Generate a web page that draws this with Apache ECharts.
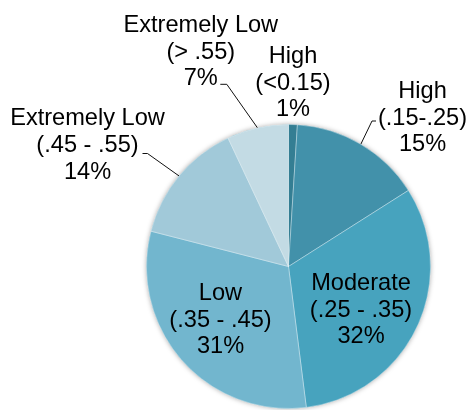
<!DOCTYPE html>
<html>
<head>
<meta charset="utf-8">
<script src="https://cdn.jsdelivr.net/npm/echarts@6/dist/echarts.min.js"></script>
<style>
  html, body { margin: 0; padding: 0; background: #fff; }
  #chart { width: 469px; height: 410px; }
</style>
</head>
<body>
<div id="chart"></div>
<script>
// Risk level categories, their value ranges and share of the total (%)
const levels = ['High', 'High', 'Moderate', 'Low', 'Extremely Low', 'Extremely Low'];
const ranges = ['(<0.15)', '(.15-.25)', '(.25 - .35)', '(.35 - .45)', '(.45 - .55)', '(> .55)'];
const shares = [1, 15, 32, 31, 14, 7];

const sliceColors = ['#347e93', '#4291aa', '#47a3be', '#72b6ce', '#a1c9d9', '#c3dbe4'];

// Label block centres and leader-line attachment (offsets from the label centre)
const labelPos = [
  [293, 83], [422.5, 118], [361, 310], [220.5, 320], [87.5, 145.5], [200.8, 52]
];
const leaderEnds = [
  null, [[-50.5, 3], [-46.5, 3]], null, null,
  [[60, 8], [55, 8]], [[26, 32.3], [19.5, 32.3]]
];

const PIE_CENTER = [288.5, 266.5];
const PIE_RADIUS = 142;

const chart = echarts.init(document.getElementById('chart'), null, { renderer: 'canvas' });

const pieData = shares.map((v, i) => ({
  value: v,
  name: levels[i] + ' ' + ranges[i],
  itemStyle: { color: sliceColors[i] },
  labelLine: { show: leaderEnds[i] !== null }
}));

chart.setOption({
  animation: false,
  backgroundColor: '#ffffff',
  series: [
    {
      // soft shadow under the whole disc
      type: 'pie',
      silent: true,
      z: 1,
      center: PIE_CENTER,
      radius: PIE_RADIUS,
      label: { show: false },
      labelLine: { show: false },
      data: [{ value: shares.reduce((a, b) => a + b, 0) }],
      itemStyle: {
        color: '#72b6ce',
        shadowBlur: 5,
        shadowColor: 'rgba(0,0,0,0.35)'
      }
    },
    {
      type: 'pie',
      z: 2,
      center: PIE_CENTER,
      radius: PIE_RADIUS,
      startAngle: 90,
      clockwise: true,
      avoidLabelOverlap: false,
      itemStyle: {
        borderColor: 'rgba(255,255,255,0.45)',
        borderWidth: 0.8
      },
      label: {
        show: true,
        position: 'outside',
        color: '#000',
        fontFamily: '"Liberation Sans", Arial, sans-serif',
        fontSize: 23.6,
        lineHeight: 26.7,
        align: 'center',
        formatter: p => levels[p.dataIndex] + '\n' + ranges[p.dataIndex] + '\n' + shares[p.dataIndex] + '%'
      },
      labelLine: {
        show: true,
        length: 10,
        length2: 5,
        lineStyle: { color: '#111', width: 1 }
      },
      labelLayout: function (params) {
        const i = params.dataIndex;
        const [x, y] = labelPos[i];
        const out = { x: x, y: y, align: 'center', verticalAlign: 'middle' };
        const ends = leaderEnds[i];
        if (ends && params.labelLinePoints) {
          const p0 = params.labelLinePoints[0];
          out.labelLinePoints = [
            [p0[0], p0[1]],
            [x + ends[0][0], y + ends[0][1]],
            [x + ends[1][0], y + ends[1][1]]
          ];
        }
        return out;
      },
      data: pieData
    }
  ]
});
</script>
</body>
</html>
